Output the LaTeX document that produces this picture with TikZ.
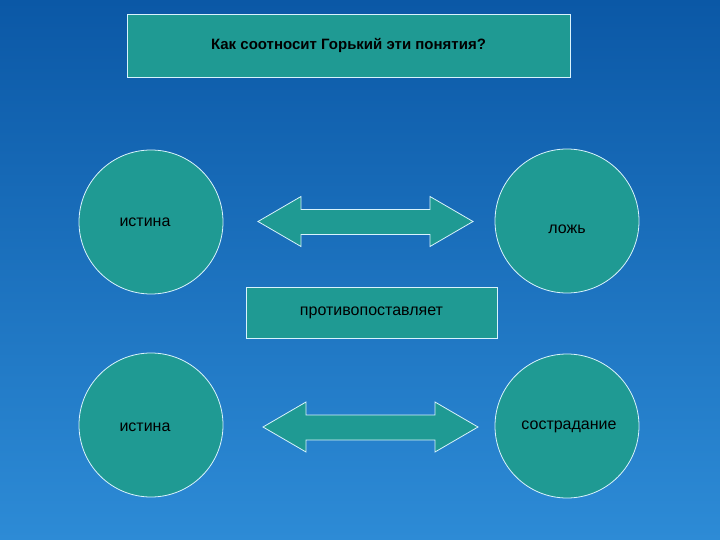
\documentclass[tikz,border=0pt]{standalone}
\usepackage{fontspec}
\setmainfont{Liberation Sans}
\definecolor{tealf}{HTML}{1F9A93}
\definecolor{bgtop}{HTML}{0B58A6}
\definecolor{bgbot}{HTML}{2D8BD6}
\tikzset{
  shp/.style={fill=tealf,draw=white!85!cyan,line width=0.8pt},
  circ/.style={shp,circle,minimum size=144pt,inner sep=0pt},
  lbl/.style={font=\fontsize{16}{19}\selectfont},
  box/.style={shp,rectangle,inner sep=0pt,font=\fontsize{16}{19}\selectfont}
}
\newcommand\dblarrow[3]{% x-left, x-right, y-center
  \path[shp] (#1,#3) -- (#1+43,#3-25) -- (#1+43,#3-12) -- (#2-43,#3-12) -- (#2-43,#3-25)
    -- (#2,#3) -- (#2-43,#3+25) -- (#2-43,#3+13) -- (#1+43,#3+13) -- (#1+43,#3+25) -- cycle;}
\begin{document}
\begin{tikzpicture}[x=1pt,y=-1pt]
\shade[top color=bgtop,bottom color=bgbot] (0,0) rectangle (720,540);
\useasboundingbox (0,0) rectangle (720,540);
\node[box,minimum width=443pt,minimum height=63pt,font=\fontsize{15}{18}\selectfont\bfseries] (top) at (348.5,45.5) {Как соотносит Горький эти понятия?};
\node[circ] (c1) at (151,222) {};
\node[lbl] (t1) at (145,222) {истина};
\node[circ] (c2) at (567,221) {};
\node[lbl] (t2) at (567,229) {ложь};
\node[circ] (c3) at (151,425) {};
\node[lbl] (t3) at (145,427) {истина};
\node[circ] (c4) at (567,426) {};
\node[lbl] (t4) at (569,427) {сострадание};
\node[box,minimum width=251pt,minimum height=51pt] (mid) at (371.5,312.5) {противопоставляет};
\dblarrow{258}{473}{221.5}
\dblarrow{263}{478}{427}
\end{tikzpicture}
\end{document}
